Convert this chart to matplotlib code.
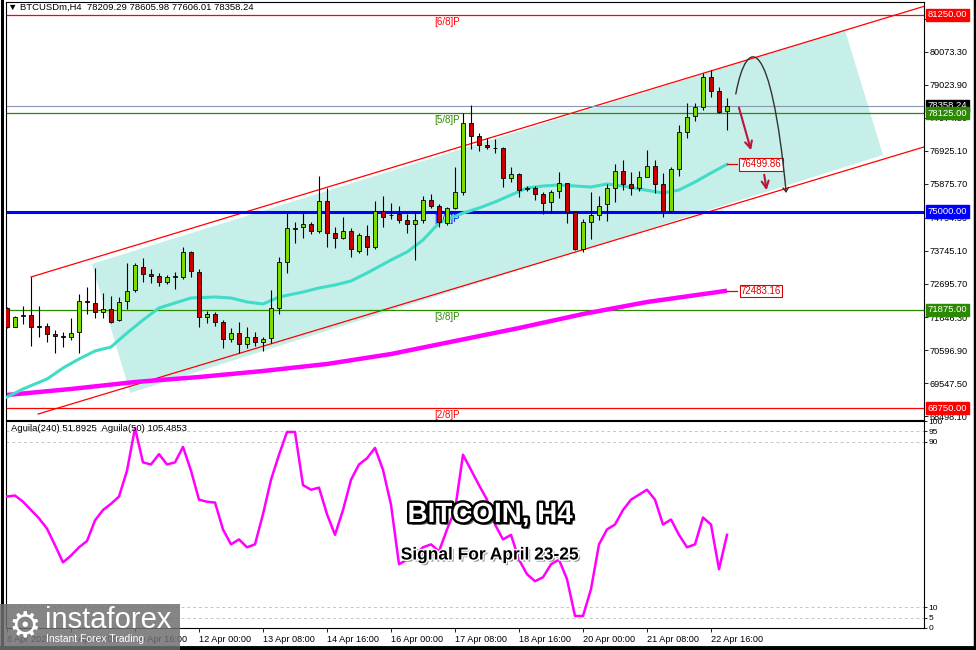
import numpy as np
import matplotlib
matplotlib.use('Agg')
import matplotlib.pyplot as plt
from matplotlib.patches import Polygon, Rectangle, FancyArrowPatch
from matplotlib.lines import Line2D
from matplotlib.path import Path
import matplotlib.patheffects as pe

plt.rcParams['font.family'] = ['Liberation Sans', 'DejaVu Sans']

# BTCUSDm H4, one bar every 4 hours from 8 Apr 00:00 to 23 Apr 00:00
opens = [71922, 71339, 71680, 71710, 71350, 71360, 71106, 71030, 71021, 71159,
         72166, 72102, 71795, 71890, 71551, 72155, 72505, 73247, 73014, 72951,
         72770, 72920, 72908, 73703, 73088, 71636, 71742, 71498, 70936, 71127,
         70788, 71000, 70862, 70968, 71922, 73385, 74460, 74498, 74593, 74381,
         75346, 74307, 74169, 74381, 73756, 74222, 73862, 75028, 74890, 74911,
         74731, 74604, 74731, 75367, 75187, 74625, 75102, 75611, 77805, 77413,
         77116, 77035, 77010, 76056, 76183, 75730, 75738, 75547, 75293, 75653,
         75897, 74975, 73809, 74678, 74890, 75229, 75738, 76300, 75865, 75738,
         76109, 76459, 75865, 75028, 76353, 77519, 78038, 78314, 79289, 78844,
         78209.29]
highs = [71975, 71689, 71996, 72908, 71996, 71445, 71233, 71180, 71604, 72367,
         72590, 73194, 72420, 72314, 72293, 73353, 73353, 73512, 73173, 73035,
         72982, 73088, 73862, 73756, 73173, 71848, 71816, 71551, 71286, 71498,
         71339, 71180, 71021, 72505, 73544, 74943, 74657, 74975, 74678, 76130,
         75738, 74519, 74837, 74466, 74307, 74572, 75346, 75494, 75282, 75187,
         74922, 74996, 75494, 75558, 75240, 75155, 76406, 78123, 78388, 77487,
         77328, 77296, 77042, 76406, 76236, 75812, 75812, 75632, 75685, 76268,
         75918, 74996, 74752, 75611, 75494, 75876, 76512, 76639, 76268, 76289,
         76957, 76639, 76215, 76427, 77752, 78462, 78462, 79416, 79501, 78950,
         78605.98]
lows = [71286, 71318, 71424, 70724, 71021, 70862, 70512, 70703, 70915, 70512,
        71742, 71604, 71604, 71445, 71519, 71901, 72431, 72749, 72717, 72643,
        72696, 72537, 72844, 72929, 71339, 71445, 71371, 70650, 70862, 70512,
        70650, 70724, 70576, 70809, 71742, 73056, 74010, 74169, 74286, 74307,
        73883, 73851, 74127, 73544, 73692, 73618, 73798, 74519, 74752, 74625,
        74307, 73459, 74625, 75102, 74519, 74572, 75070, 75526, 76978, 76936,
        76978, 76872, 75770, 75950, 75452, 75664, 75367, 74911, 74943, 75420,
        74625, 73777, 73724, 74127, 74731, 74710, 75314, 75685, 75526, 75653,
        76088, 75579, 74816, 74975, 76141, 77349, 77890, 78229, 78653, 78123,
        77606.01]
closes = [71339, 71657, 71700, 71318, 71339, 71106, 71042, 71021, 71148, 72166,
          72113, 71795, 71890, 71498, 72134, 72484, 73289, 73014, 72951, 72770,
          72929, 72935, 73703, 73109, 71636, 71742, 71498, 70936, 71127, 70788,
          71000, 70862, 70947, 71922, 73385, 74466, 74470, 74593, 74392, 75346,
          74307, 74169, 74381, 73798, 74243, 73862, 75028, 74837, 74880, 74731,
          74604, 74731, 75367, 75176, 74657, 75102, 75611, 77805, 77413, 77116,
          77042, 77030, 76056, 76183, 75685, 75740, 75558, 75282, 75611, 75897,
          74975, 73809, 74657, 74890, 75187, 75738, 76300, 75876, 75738, 76109,
          76459, 75876, 75028, 76353, 77519, 78017, 78314, 79289, 78844, 78176,
          78358.24]

tick_pos = [0, 8, 16, 24, 32, 40, 48, 56, 64, 72, 80, 88]
tick_labels = ['8 Apr 2025', '9 Apr 08:00', '10 Apr 16:00', '12 Apr 00:00',
               '13 Apr 08:00', '14 Apr 16:00', '16 Apr 00:00', '17 Apr 08:00',
               '18 Apr 16:00', '20 Apr 00:00', '21 Apr 08:00', '22 Apr 16:00']

price_ticks = [81122.70, 80073.30, 79023.90, 77974.50, 76925.10, 75875.70,
               74794.50, 73745.10, 72695.70, 71646.30, 70596.90, 69547.50,
               68498.10]

# moving averages (bar index, price)
ma_fast_idx = [0, 2, 5, 7, 9, 11, 13, 15, 17, 19, 21, 23, 26, 28, 30, 32, 34, 37,
               39, 41, 43, 45, 48, 50, 52, 54, 57, 59, 61, 63, 65, 67, 69, 71, 73,
               75, 77, 79, 82, 84, 86, 88, 90]
ma_fast_val = [69102, 69357, 69674, 70024, 70311, 70565, 70692, 71137, 71551,
               71933, 72092, 72251, 72282, 72251, 72124, 72060, 72282, 72441,
               72569, 72664, 72791, 73045, 73459, 73713, 74095, 74636, 74953,
               75112, 75303, 75526, 75748, 75812, 75844, 75812, 75780, 75876,
               75812, 75717, 75590, 75685, 75939, 76226, 76500]
ma_slow_idx = [0, 8, 16, 24, 32, 40, 48, 56, 64, 72, 80, 88, 90]
ma_slow_val = [69166, 69357, 69579, 69738, 69929, 70152, 70469, 70883, 71296,
               71741, 72123, 72410, 72483]

aguila = [63.5, 64, 61, 57, 53, 48, 40, 31.7, 35, 39,
          42, 52, 57, 60, 63.5, 76, 96.6, 80, 79, 84,
          79, 80, 87.5, 76, 62, 61, 60.6, 47.6, 40.4, 42.8,
          39, 40.4, 55, 71.6, 83.7, 94.7, 94.7, 69, 66.8, 67.8,
          55, 45, 57, 71.6, 79, 82, 87, 76.4, 59.6, 30.8,
          33, 35.6, 39, 40.4, 37, 47.6, 57, 83.7, 76.4, 69,
          62, 50, 42.8, 45, 33, 26, 22.6, 24.5, 30.8, 33,
          23.6, 5.8, 5.8, 18.8, 40.4, 47.6, 50, 57, 62, 64.4,
          66.8, 62, 50, 52.4, 45, 39, 40.4, 53.4, 50, 28.4,
          45]

# murrey math levels
level_prices = [81250, 78125, 75000, 71875, 68750]
level_names = ['[6/8]P', '[5/8]P', '[4/8]P', '[3/8]P', '[2/8]P']
level_colors = ['#ff0000', '#2a8a00', '#0000ff', '#2a8a00', '#ff0000']
level_widths = [0.9, 0.9, 2.2, 0.9, 0.9]

last_price = 78358.24
fast_last = 76499.86
slow_last = 72483.16

# drawn objects: channel and shaded box (bar index, price)
chan_upper = [(3.0, 72919), (114.6, 81523)]
chan_lower = [(3.9, 68562), (114.6, 77052)]
box_corners = [(10.6, 73332), (104.75, 80773), (109.5, 76798), (15.4, 69229)]

W, H = 976, 650
fig = plt.figure(figsize=(W / 100, H / 100), dpi=100)


def px_rect(x0, y0, x1, y1):
    return [x0 / W, 1 - y1 / H, (x1 - x0) / W, (y1 - y0) / H]


ax = fig.add_axes(px_rect(6, 2, 924, 420))
ax2 = fig.add_axes(px_rect(6, 421, 924, 628))

xlim = (-0.125, 114.625)
ax.set_xlim(*xlim)
ax.set_ylim(68371, 81663)
ax2.set_xlim(*xlim)
ax2.set_ylim(0, 100)

# shaded box + channel
ax.add_patch(Polygon(box_corners, closed=True, fc='#c6efe9', ec='none', zorder=1))
for line in (chan_upper, chan_lower):
    ax.plot([line[0][0], line[1][0]], [line[0][1], line[1][1]], color='#ff0000', lw=0.9, zorder=2)

# levels
for p, name, col, lw in zip(level_prices, level_names, level_colors, level_widths):
    ax.axhline(p, color=col, lw=lw, zorder=2)
    ax.annotate(name, (55, p), xytext=(0, -1.5), textcoords='offset points',
                ha='center', va='top', fontsize=7, color=col, zorder=3)
ax.axhline(last_price, color='#8898ae', lw=0.8, zorder=2)

# moving averages
ax.plot(ma_slow_idx, ma_slow_val, color='#ff00ff', lw=3.2, zorder=3, solid_capstyle='butt')
ax.plot(ma_fast_idx, ma_fast_val, color='#40dcc8', lw=2.2, zorder=3)

# candles
x = np.arange(len(opens))
o, h, l, c = map(np.array, (opens, highs, lows, closes))
up = c >= o
ax.vlines(x, l, h, color='black', lw=0.8, zorder=4)
body_bottom = np.minimum(o, c)
body_h = np.maximum(np.abs(c - o), 6)
ax.bar(x, body_h, 0.6, bottom=body_bottom, color=np.where(up, '#7cdc00', '#c80000'),
       edgecolor='black', lw=0.6, zorder=5)

# MA value tags
for val, i_end in ((fast_last, 90), (slow_last, 90)):
    ax.plot([i_end, i_end + 1.3], [val, val], color='#e00000', lw=0.9, zorder=6)
    ax.text(94.25, val, f'{val:.2f}', ha='center', va='center', fontsize=7, color='#e00000',
            bbox=dict(boxstyle='square,pad=0.12', fc='white', ec='#e00000', lw=0.8), zorder=7)

# forecast arrows
red_arrow = dict(arrowstyle='->,head_length=0.5,head_width=0.25', color='#b8143c', lw=1.5)
ax.annotate('', xy=(93.1, 76861), xytext=(91.4, 78388), arrowprops=red_arrow, zorder=8)
ax.annotate('', xy=(95.0, 75589), xytext=(94.6, 76257), arrowprops=red_arrow, zorder=8)
curve = Path([(91.1, 78738), (92.5, 80650), (95.5, 80650), (97.4, 75589)],
             [Path.MOVETO, Path.CURVE4, Path.CURVE4, Path.CURVE4])
ax.add_patch(FancyArrowPatch(path=curve, arrowstyle='->,head_length=3,head_width=2',
                             color='#333333', lw=1.0, zorder=8))

# axes styling
ax.set_xticks([])
ax.yaxis.tick_right()
ax.set_yticks(price_ticks)
ax.set_yticklabels([f'{p:.2f}' for p in price_ticks])
ax.tick_params(axis='y', labelsize=6.6, length=3, pad=1, width=0.6)
for a in (ax, ax2):
    for s in a.spines.values():
        s.set_linewidth(0.8)

yt = ax.get_yaxis_transform()


def price_box(y, text, fc):
    ax.text(1.004, y, text, transform=yt, fontsize=6.8, color='white', va='center', ha='left',
            bbox=dict(boxstyle='square,pad=0.18', fc=fc, ec=fc), clip_on=False, zorder=10)


price_box(last_price, f'{last_price:.2f}', 'black')
for p, col in zip(level_prices, level_colors):
    price_box(p, f'{p:.2f}', col)

# oscillator panel
for v in (95, 90, 10, 5):
    ax2.axhline(v, color='#c4c4c4', lw=0.7, ls=(0, (3, 3)), zorder=1)
ax2.plot(x, aguila, color='#ff00ff', lw=1.8, zorder=3)
ax2.yaxis.tick_right()
ax2.set_yticks([0, 5, 10, 90, 95, 100])
ax2.set_yticklabels(['0', '5', '10', '90', '95', '100'])
ax2.tick_params(axis='y', labelsize=6, length=2, pad=1, width=0.6)
ax2.set_xticks(tick_pos)
ax2.set_xticklabels(tick_labels, ha='left')
ax2.tick_params(axis='x', labelsize=6.6, length=3, pad=2, width=0.6)
ax2.text(0.005, 0.985, 'Aguila(240) 51.8925  Aguila(50) 105.4853', transform=ax2.transAxes,
         va='top', ha='left', fontsize=6.8, zorder=5)

# header
fig.text(8 / W, 1 - 7 / H, '\u25bc BTCUSDm,H4  78209.29 78605.98 77606.01 78358.24',
         fontsize=6.8, va='center', ha='left')

# title
fig.text(490 / W, 1 - 515 / H, 'BITCOIN, H4', ha='center', va='center', fontsize=20,
         fontweight='bold', color='white', zorder=30,
         path_effects=[pe.SimplePatchShadow(offset=(2, -2), shadow_rgbFace='#444444', alpha=0.8),
                       pe.Stroke(linewidth=3.5, foreground='black'), pe.Normal()])
fig.text(490 / W, 1 - 555 / H, 'Signal For April 23-25', ha='center', va='center', fontsize=12.5,
         fontweight='bold', color='black', zorder=30,
         path_effects=[pe.SimplePatchShadow(offset=(1.5, -1.5), shadow_rgbFace='#777777', alpha=0.8),
                       pe.Stroke(linewidth=2, foreground='white'), pe.Normal()])

# logo
fig.patches.append(Rectangle((0, 0), 180 / W, 46 / H, transform=fig.transFigure,
                             fc='#707070', ec='none', alpha=0.85, zorder=20))
fig.text(25 / W, 1 - 626 / H, '\u2699', fontsize=26, color='white', ha='center', va='center',
         family='DejaVu Sans', zorder=21)
fig.text(45 / W, 1 - 620 / H, 'instaforex', fontsize=21, color='white', ha='left', va='center',
         zorder=21)
fig.text(46 / W, 1 - 639 / H, 'Instant Forex Trading', fontsize=7.5, color='white', ha='left',
         va='center', zorder=21)

# outer frame
fig.add_artist(Line2D([1.5 / W, 1.5 / W], [0, 1], color='black', lw=2.2))
fig.add_artist(Line2D([974.5 / W, 974.5 / W], [0, 1], color='black', lw=2.5))
fig.add_artist(Line2D([0, 1], [2.5 / H, 2.5 / H], color='black', lw=3.5))

fig.savefig('out.png', dpi=100)
